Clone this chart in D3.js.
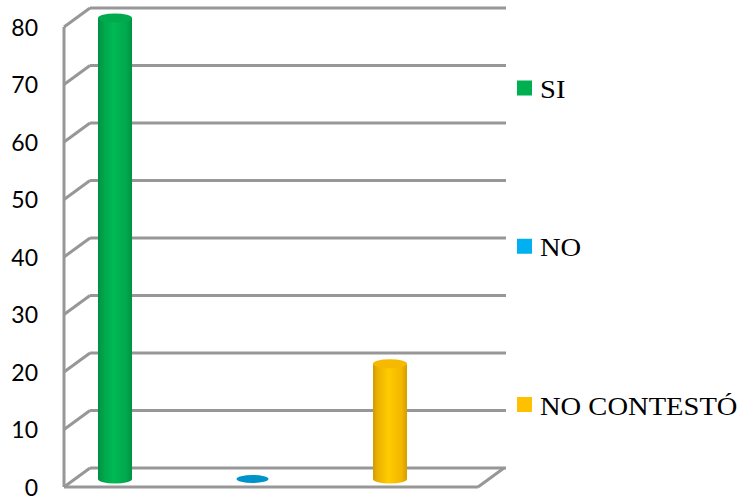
<!DOCTYPE html>
<html><head><meta charset="utf-8">
<script src="https://cdn.jsdelivr.net/npm/d3@7"></script>
<style>body{margin:0;background:#fff}svg{display:block}</style>
</head><body>
<script>
const categories = ["SI", "NO", "NO CONTESTÓ"];
const values = [80, 0, 20];
const colors = ["#00b050", "#00b0f0", "#ffc000"];
const tickValues = [0, 10, 20, 30, 40, 50, 60, 70, 80];

const W = 743, H = 502;
const svg = d3.select("body").append("svg").attr("width", W).attr("height", H);
const defs = svg.append("defs");

// 3D geometry
const frontX0 = 64, frontX1 = 478, depthX = 26, depthY = -19;
const yFront = d3.scaleLinear().domain([0, 80]).range([487, 27]);
const yBack = v => yFront(v) + depthY;
const yBar = d3.scaleLinear().domain([0, 80]).range([479, 18]);
const x = d3.scalePoint().domain(categories).range([115, 390]);
const grid = "#979797";

// back wall gridlines
svg.append("g").selectAll("line").data(tickValues).join("line")
  .attr("x1", frontX0 + depthX).attr("x2", frontX1 + depthX + 2)
  .attr("y1", d => yBack(d)).attr("y2", d => yBack(d))
  .attr("stroke", grid).attr("stroke-width", 3);
// left wall diagonals
svg.append("g").selectAll("line").data(tickValues).join("line")
  .attr("x1", frontX0).attr("x2", frontX0 + depthX)
  .attr("y1", d => yFront(d)).attr("y2", d => yBack(d))
  .attr("stroke", grid).attr("stroke-width", 3);
// front vertical axis
svg.append("line").attr("x1", frontX0).attr("x2", frontX0)
  .attr("y1", yFront(80)).attr("y2", yFront(0))
  .attr("stroke", grid).attr("stroke-width", 3);
// floor front edge and right diagonal
svg.append("line").attr("x1", frontX0).attr("x2", frontX1)
  .attr("y1", yFront(0)).attr("y2", yFront(0))
  .attr("stroke", grid).attr("stroke-width", 3);
svg.append("line").attr("x1", frontX1).attr("x2", frontX1 + depthX)
  .attr("y1", yFront(0)).attr("y2", yBack(0))
  .attr("stroke", grid).attr("stroke-width", 3);

// tick labels
svg.append("g").selectAll("text").data(tickValues).join("text")
  .attr("x", 38).attr("y", d => yFront(d) + 3)
  .attr("text-anchor", "end").attr("dominant-baseline", "middle")
  .attr("font-family", "Lato, 'Open Sans', sans-serif").attr("font-size", 23)
  .attr("fill", "#000").text(d => d);

// gradients
function shade(c, k) { return d3.color(c).darker(k).formatHex(); }
colors.forEach((c, i) => {
  const g = defs.append("linearGradient").attr("id", "cyl" + i)
    .attr("x1", "0").attr("x2", "1").attr("y1", "0").attr("y2", "0");
  g.append("stop").attr("offset", "0").attr("stop-color", shade(c, 0.6));
  g.append("stop").attr("offset", "0.12").attr("stop-color", shade(c, 0.25));
  g.append("stop").attr("offset", "0.45").attr("stop-color", d3.color(c).brighter(0.15).formatHex());
  g.append("stop").attr("offset", "0.85").attr("stop-color", shade(c, 0.15));
  g.append("stop").attr("offset", "1").attr("stop-color", shade(c, 0.55));
});

const rx = 17, ry = 4.5;
const bars = svg.append("g").selectAll("g").data(categories).join("g");
bars.each(function (cat, i) {
  const g = d3.select(this);
  const cx = x(cat), v = values[i];
  const yt = yBar(v), yb = yBar(0);
  if (v > 0) {
    g.append("path")
      .attr("d", `M${cx - rx},${yt} L${cx - rx},${yb} A${rx},${ry} 0 0 0 ${cx + rx},${yb} L${cx + rx},${yt} Z`)
      .attr("fill", `url(#cyl${i})`);
    g.append("ellipse").attr("cx", cx).attr("cy", yt).attr("rx", rx).attr("ry", ry)
      .attr("fill", d3.color(colors[i]).darker(0.1).formatHex());
  } else {
    g.append("ellipse").attr("cx", cx).attr("cy", yt).attr("rx", rx - 1).attr("ry", ry - 0.5)
      .attr("fill", d3.color(colors[i]).darker(0.5).formatHex());
  }
});

// legend
const legY = d3.scalePoint().domain(categories).range([88, 404.5]);
const leg = svg.append("g").selectAll("g").data(categories).join("g");
leg.append("rect").attr("x", 517).attr("y", d => legY(d) - 7.5)
  .attr("width", 15).attr("height", 15).attr("fill", (d, i) => colors[i]);
leg.append("text")
  .attr("transform", d => `translate(540,${legY(d) + 10}) scale(1.12,1)`)
  .attr("font-family", "'Liberation Serif', 'Times New Roman', serif")
  .attr("font-size", 25.5).attr("fill", "#000").text(d => d);
</script>
</body></html>
